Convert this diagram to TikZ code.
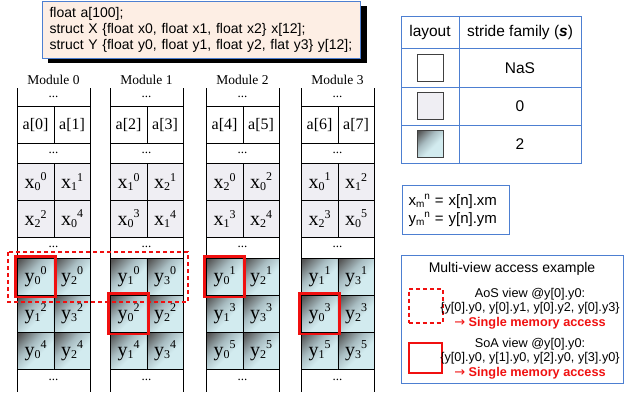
\documentclass[tikz,border=0pt]{standalone}
\usepackage{fontspec}
\setmainfont{Liberation Serif}
\setsansfont{Liberation Sans}
\newfontfamily\arrowfont{DejaVu Sans}
\definecolor{boxblue}{HTML}{4D7FD1}
\definecolor{codefill}{HTML}{FDEEE4}
\definecolor{xfill}{HTML}{EFEEF3}
\definecolor{ydark}{HTML}{555555}
\definecolor{ymid}{HTML}{A8BCC1}
\definecolor{ylight}{HTML}{D2EBEF}
\definecolor{mred}{HTML}{F01010}
\pgfdeclarehorizontalshading{ygrad}{100bp}{color(0bp)=(ydark); color(18bp)=(ydark); color(40bp)=(ymid); color(58bp)=(ylight); color(100bp)=(ylight)}
\newcommand\xv[2]{x\raisebox{-2pt}{\fontsize{12}{12}\selectfont #1}\raisebox{7.5pt}{\fontsize{12}{12}\selectfont #2}}
\newcommand\yv[2]{y\raisebox{-2pt}{\fontsize{12}{12}\selectfont #1}\raisebox{7.5pt}{\fontsize{12}{12}\selectfont #2}}
\newcommand\cellrow[6]{\node[#4] (#1l) at (#2,#3) {#5}; \node[#4] (#1r) at (#2+36.5,#3) {#6};}
\tikzset{
  cell/.style={draw, line width=0.6pt, minimum width=36.5pt, minimum height=37pt, inner sep=0pt, anchor=north west, font=\fontsize{16}{16}\selectfont},
  acell/.style={cell, fill=white},
  xcell/.style={cell, fill=xfill, font=\fontsize{20}{20}\selectfont},
  ycell/.style={cell, shade, shading=ygrad, shading angle=-45, font=\fontsize{20}{20}\selectfont},
  dots/.style={font=\fontsize{13}{13}\selectfont, inner sep=0pt, text height=1.5pt, text depth=0pt},
  modlabel/.style={font=\fontsize{13.5}{14}\selectfont, inner sep=0pt},
  colline/.style={line width=0.9pt},
  redsq/.style={draw=mred, line width=2.6pt},
  reddash/.style={draw=mred, line width=2pt, dash pattern=on 4pt off 3pt},
  sfs/.style={font=\sffamily\fontsize{#1}{#1}\selectfont, inner sep=0pt},
  legsq/.style={draw=black!75, line width=0.8pt, minimum width=26pt, minimum height=27pt, inner sep=0pt}
}
\begin{document}
\begin{tikzpicture}[x=1pt,y=-1pt]
\useasboundingbox (0,0) rectangle (638,392);
% code box
\fill[black] (48,6) rectangle (367,63);
\node[draw=boxblue, line width=1pt, fill=codefill, anchor=north west, minimum width=318pt, minimum height=57pt,
      text width=304pt, align=left, inner xsep=7pt, inner ysep=0pt,
      font=\sffamily\fontsize{14}{16}\selectfont] (code) at (42,0.5)
  {float a[100];\\ struct X \{float x0, float x1, float x2\} x[12];\\ struct Y \{float y0, float y1, float y2, flat y3\} y[12];};
% modules
\foreach \L/\m in {17/0,110/1,206/2,301/3}{
  \draw[colline] (\L,88) -- (\L,392);
  \draw[colline] (\L+73,88) -- (\L+73,392);
  \node[modlabel] (lab\m) at (\L+36.5,80) {Module \m};
  \node[dots] (m\m d1) at (\L+36.5,96.5) {...};
  \node[dots] (m\m d2) at (\L+36.5,153) {...};
  \node[dots] (m\m d3) at (\L+36.5,247) {...};
  \node[dots] (m\m d4) at (\L+36.5,380) {...};
}
\cellrow{m0a}{17}{106}{acell}{a[0]}{a[1]}
\cellrow{m0x1}{17}{163}{xcell}{\xv00}{\xv11}
\cellrow{m0x2}{17}{200}{xcell}{\xv22}{\xv04}
\cellrow{m0y1}{17}{258}{ycell}{\yv00}{\yv20}
\cellrow{m0y2}{17}{295}{ycell}{\yv12}{\yv32}
\cellrow{m0y3}{17}{332}{ycell}{\yv04}{\yv24}
\cellrow{m1a}{110}{106}{acell}{a[2]}{a[3]}
\cellrow{m1x1}{110}{163}{xcell}{\xv10}{\xv21}
\cellrow{m1x2}{110}{200}{xcell}{\xv03}{\xv14}
\cellrow{m1y1}{110}{258}{ycell}{\yv10}{\yv30}
\cellrow{m1y2}{110}{295}{ycell}{\yv02}{\yv22}
\cellrow{m1y3}{110}{332}{ycell}{\yv14}{\yv34}
\cellrow{m2a}{206}{106}{acell}{a[4]}{a[5]}
\cellrow{m2x1}{206}{163}{xcell}{\xv20}{\xv02}
\cellrow{m2x2}{206}{200}{xcell}{\xv13}{\xv24}
\cellrow{m2y1}{206}{258}{ycell}{\yv01}{\yv21}
\cellrow{m2y2}{206}{295}{ycell}{\yv13}{\yv33}
\cellrow{m2y3}{206}{332}{ycell}{\yv05}{\yv25}
\cellrow{m3a}{301}{106}{acell}{a[6]}{a[7]}
\cellrow{m3x1}{301}{163}{xcell}{\xv01}{\xv12}
\cellrow{m3x2}{301}{200}{xcell}{\xv23}{\xv05}
\cellrow{m3y1}{301}{258}{ycell}{\yv11}{\yv31}
\cellrow{m3y2}{301}{295}{ycell}{\yv03}{\yv23}
\cellrow{m3y3}{301}{332}{ycell}{\yv15}{\yv35}
% views
\draw[reddash] (8,252) rectangle (188,302);
\foreach \c in {m0y1l,m1y2l,m2y1l,m3y2l}{
  \draw[redsq] ([xshift=-1.5pt,yshift=1.5pt]\c.north west) rectangle ([xshift=1.5pt,yshift=-1.5pt]\c.south east);
}
% table
\draw[boxblue, line width=1pt] (401,16) rectangle (581,163);
\draw[boxblue, line width=1pt] (401,48) -- (581,48) (401,87) -- (581,87) (401,125) -- (581,125) (459,16) -- (459,163);
\node[sfs=15.5] (thl) at (430,32) {layout};
\node[sfs=15.5] (ths) at (520,32) {stride family (\textbf{\textit{s}})};
\node[legsq, fill=white] (lg0) at (430,67.5) {};
\node[legsq, fill=xfill] (lg1) at (430,106) {};
\node[legsq, shade, shading=ygrad, shading angle=-45] (lg2) at (430,144) {};
\node[sfs=15.5] (v0) at (520,68) {NaS};
\node[sfs=15.5] (v1) at (520,106) {0};
\node[sfs=15.5] (v2) at (520,144) {2};
% formula box
\node[draw=boxblue, line width=1pt, anchor=north west, minimum width=107pt, minimum height=49pt, text width=95pt,
      inner xsep=6pt, inner ysep=0pt, align=left, font=\sffamily\fontsize{15}{18}\selectfont] (fm) at (402,185)
  {x\raisebox{-2.5pt}{\fontsize{10}{10}\selectfont m}\raisebox{6pt}{\fontsize{10}{10}\selectfont n} = x[n].xm\\
   y\raisebox{-2.5pt}{\fontsize{10}{10}\selectfont m}\raisebox{6pt}{\fontsize{10}{10}\selectfont n} = y[n].ym};
% multi-view box
\draw[boxblue, line width=1pt] (401,255) rectangle (623,383);
\node[sfs=14] (mvt) at (512,269) {Multi-view access example};
\node[reddash, minimum width=34pt, minimum height=34pt, inner sep=0pt] (lgd) at (425.5,305.5) {};
\node[redsq, minimum width=33pt, minimum height=30pt, inner sep=0pt] (lgs) at (425.5,358) {};
\node[align=center, inner sep=0pt, font=\sffamily\fontsize{12.7}{14.5}\selectfont] (aos) at (530,308.5)
  {AoS view @y[0].y0:\\ \{y[0].y0, y[0].y1, y[0].y2, y[0].y3\}\\ \textcolor{mred}{{\arrowfont\fontsize{13}{13}\selectfont →} \textbf{Single memory access}}};
\node[align=center, inner sep=0pt, font=\sffamily\fontsize{12.7}{14.5}\selectfont] (soa) at (530,358.5)
  {SoA view @y[0].y0:\\ \{y[0].y0, y[1].y0, y[2].y0, y[3].y0\}\\ \textcolor{mred}{{\arrowfont\fontsize{13}{13}\selectfont →} \textbf{Single memory access}}};
\end{tikzpicture}
\end{document}
